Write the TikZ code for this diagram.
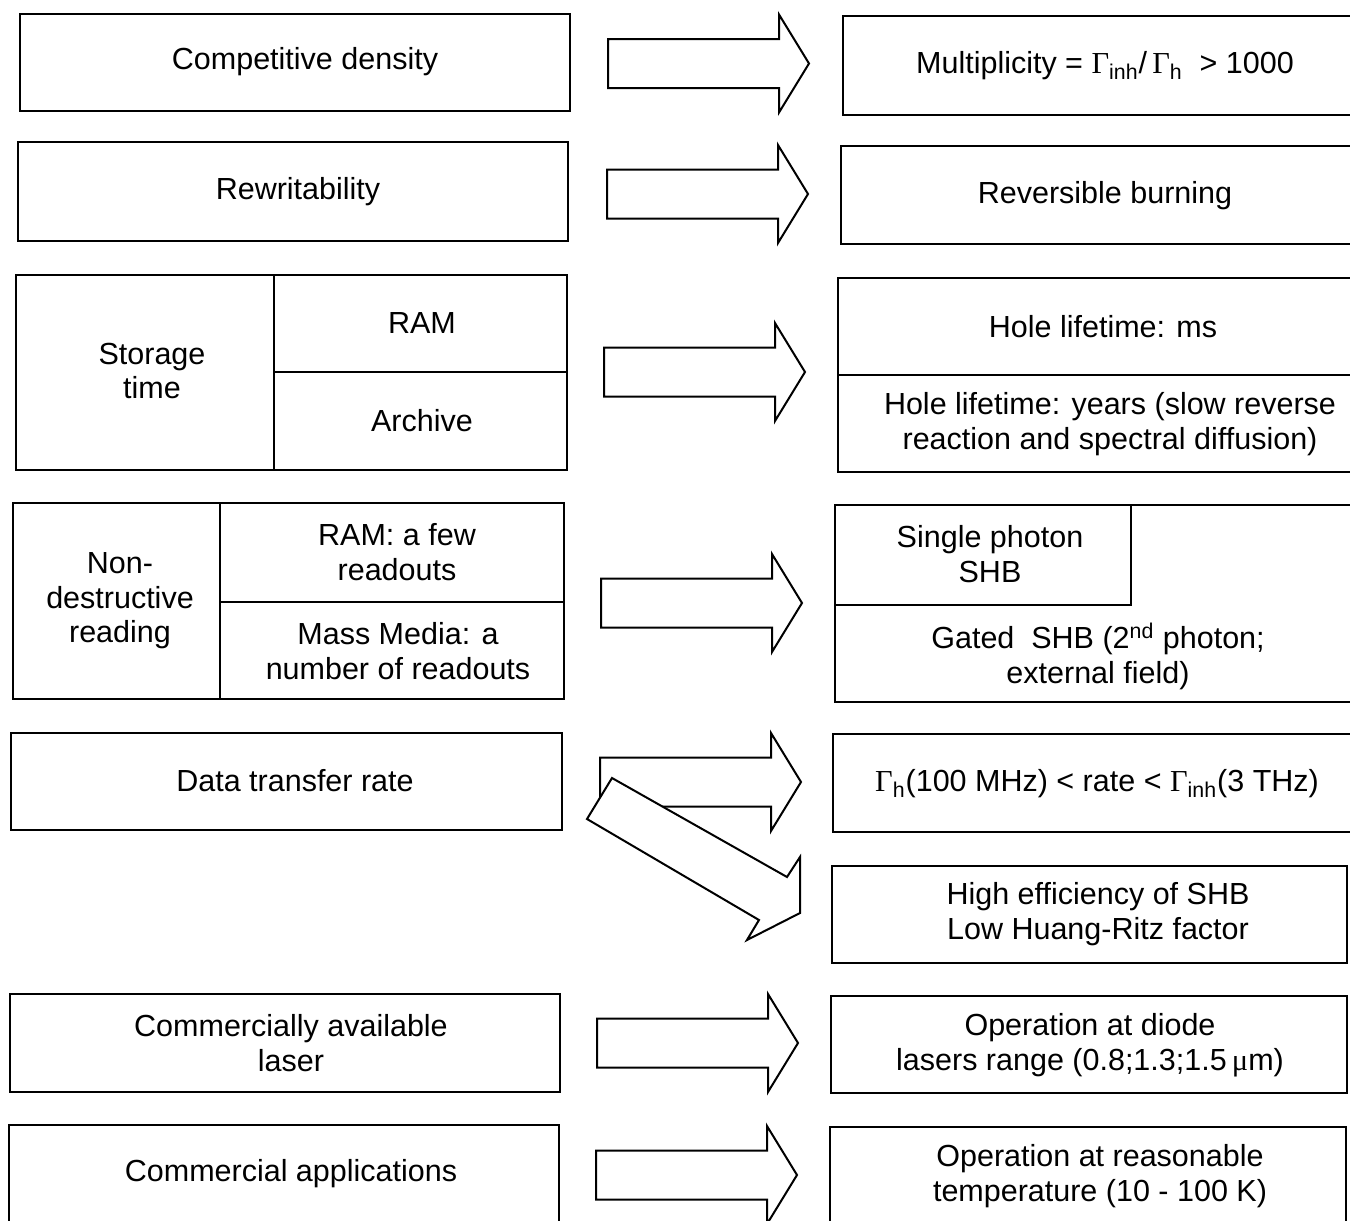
\documentclass[tikz,border=0pt]{standalone}
\usepackage{fontspec}
\setmainfont{Liberation Sans}
\newfontfamily\greekfont{Liberation Serif}
\usetikzlibrary{fit}
\newcommand\Gam{{\greekfont Γ}}
\tikzset{
  blockarrow/.style={draw,fill=white,line width=1pt,line join=miter},
  pics/bigarrow/.style={code={
    \draw[blockarrow] (0,-24.5) -- (171,-24.5) -- (171,-49) -- (201,0)
      -- (171,49) -- (171,24.5) -- (0,24.5) -- cycle;}}
}
\begin{document}
\begin{tikzpicture}[x=0.5pt,y=-0.5pt,
  box/.style={draw,line width=1pt,inner sep=0pt},
  lbl/.style={inner sep=0pt,align=center,
    font=\fontsize{15.25}{17.25}\selectfont}]
\useasboundingbox (0,0) rectangle (1350,1221);
\clip (0,0) rectangle (1350,1221);
% requirements
\node[box,fit={(20,14)(570,111)}] (compdens) {};
\node[box,fit={(18,142)(568,241)}] (rewrite) {};
\node[box,fit={(16,275)(274,470)}] (storetime) {};
\node[box,fit={(274,275)(567,372)}] (storeram) {};
\node[box,fit={(274,372)(567,470)}] (storearch) {};
\node[box,fit={(13,503)(220,699)}] (nondestr) {};
\node[box,fit={(220,503)(564,602)}] (readram) {};
\node[box,fit={(220,602)(564,699)}] (readmass) {};
\node[box,fit={(11,733)(562,830)}] (datarate) {};
\node[box,fit={(10,994)(560,1092)}] (commlaser) {};
\node[box,fit={(9,1125)(559,1222)}] (commapp) {};
\node[lbl] (compdens-t) at (305,62) {Competitive density};
\node[lbl] (rewrite-t) at (298,192) {Rewritability};
\node[lbl] (storetime-t) at (152,371) {Storage\\time};
\node[lbl] (storeram-t) at (422,323) {RAM};
\node[lbl] (storearch-t) at (422,421) {Archive};
\node[lbl] (nondestr-t) at (120,601) {Non-\\destructive\\reading};
\node[lbl] (readram-t) at (397,552) {RAM: a few\\readouts};
\node[lbl] (readmass-t) at (398,651) {Mass Media: a\\number of readouts};
\node[lbl] (datarate-t) at (295,781) {Data transfer rate};
\node[lbl] (commlaser-t) at (291,1043) {Commercially available\\laser};
\node[lbl] (commapp-t) at (291,1174) {Commercial applications};
% arrows
\pic at (608,63.5) {bigarrow};
\pic at (607,194) {bigarrow};
\pic at (604,372) {bigarrow};
\pic at (601,603) {bigarrow};
\pic at (600,782) {bigarrow};
\draw[blockarrow] (612,778) -- (787,877) -- (800,857) -- (800,913)
  -- (747,940) -- (759,920) -- (587,819) -- cycle;
\pic at (597,1043) {bigarrow};
\pic at (596,1175) {bigarrow};
% material properties
\node[box,fit={(843,16)(1365,115)}] (multiplicity) {};
\node[box,fit={(841,146)(1365,244)}] (revburn) {};
\node[box,fit={(838,278)(1365,375)}] (lifems) {};
\node[box,fit={(838,375)(1365,472)}] (lifeyears) {};
\node[box,fit={(835,505)(1365,702)}] (shbframe) {};
\node[box,fit={(835,505)(1131,605)}] (onephoton) {};
\node[box,fit={(833,734)(1365,832)}] (ratelimits) {};
\node[box,fit={(832,866)(1347,963)}] (shbeff) {};
\node[box,fit={(831,996)(1347,1093)}] (diodelaser) {};
\node[box,fit={(830,1127)(1346,1222)}] (temprange) {};
\node[lbl] (multiplicity-t) at (1105,66)
  {Multiplicity = \Gam\textsubscript{inh}/\,\Gam\textsubscript{h}\ \ > 1000};
\node[lbl] (revburn-t) at (1105,196) {Reversible burning};
\node[lbl] (lifems-t) at (1103,327) {Hole lifetime: ms};
\node[lbl] (lifeyears-t) at (1110,424)
  {Hole lifetime: years (slow reverse\\reaction and spectral diffusion)};
\node[lbl] (onephoton-t) at (990,554) {Single photon\\SHB};
\node[lbl] (gatedshb-t) at (1098,656)
  {Gated\ \ SHB (2\textsuperscript{nd} photon;\\external field)};
\node[lbl] (ratelimits-t) at (1097,784)
  {\Gam\textsubscript{h}(100 MHz) < rate < \Gam\textsubscript{inh}(3 THz)};
\node[lbl] (shbeff-t) at (1098,914)
  {High efficiency of SHB\\Low Huang-Ritz factor};
\node[lbl] (diodelaser-t) at (1090,1045)
  {Operation at diode\\lasers range (0.8;1.3;1.5\,{\greekfont μ}m)};
\node[lbl] (temprange-t) at (1100,1176)
  {Operation at reasonable\\temperature (10 - 100 K)};
\end{tikzpicture}
\end{document}
